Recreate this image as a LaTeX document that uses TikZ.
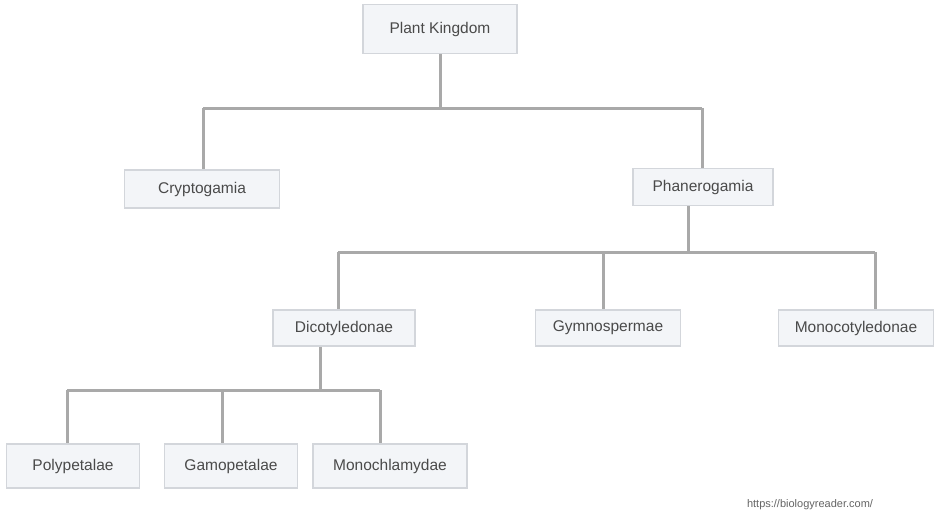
\documentclass[tikz,border=0pt]{standalone}
\usepackage{fontspec}
\setmainfont{Liberation Sans}
\usetikzlibrary{calc}
\definecolor{boxfill}{HTML}{F3F5F8}
\definecolor{boxline}{HTML}{D3D6DB}
\definecolor{conncol}{HTML}{A9A9A9}
\definecolor{txtcol}{HTML}{4A4A4A}
\begin{document}
\begin{tikzpicture}[x=1pt,y=-1pt,
  tbox/.style={draw=boxline, line width=1.5pt, fill=boxfill, text=txtcol,
    font=\fontsize{15.5}{17}\selectfont, inner sep=0pt, anchor=center},
  conn/.style={draw=conncol, line width=3pt},
  url/.style={text=txtcol!85, font=\fontsize{11}{12}\selectfont}]
\useasboundingbox (0,0) rectangle (934,517);
\fill[white] (0,0) rectangle (934,517);
% nodes
\node[tbox, minimum width=154pt, minimum height=49pt] (pk) at (440,29) {Plant Kingdom};
\node[tbox, minimum width=155pt, minimum height=38pt] (cr) at (202,189) {Cryptogamia};
\node[tbox, minimum width=140pt, minimum height=37pt] (ph) at (703,187) {Phanerogamia};
\node[tbox, minimum width=142pt, minimum height=36pt] (di) at (344,328) {Dicotyledonae};
\node[tbox, minimum width=145pt, minimum height=36pt] (gy) at (608,328) {Gymnospermae};
\node[tbox, minimum width=155pt, minimum height=36pt] (mo) at (856,328) {Monocotyledonae};
\node[tbox, minimum width=133pt, minimum height=44pt] (po) at (73,466) {Polypetalae};
\node[tbox, minimum width=133pt, minimum height=44pt] (ga) at (231,466) {Gamopetalae};
\node[tbox, minimum width=154pt, minimum height=44pt] (mc) at (390,466) {Monochlamydae};
\node[url] (u) at (810,505) {https://biologyreader.com/};
% bus coordinates
\coordinate (a1) at (203,108);
\coordinate (a2) at (702,108);
\coordinate (b0) at (688,252);
\coordinate (b1) at (338,252);
\coordinate (b2) at (603,252);
\coordinate (b3) at (875,252);
\coordinate (c0) at (320,390);
\coordinate (c1) at (67,390);
\coordinate (c2) at (222,390);
\coordinate (c3) at (380,390);
% connectors level 1
\draw[conn] (pk.south) -- (pk.south |- a1);
\draw[conn] (a1) -- (a2);
\draw[conn] (a1) -- (a1 |- cr.north);
\draw[conn] (a2) -- (a2 |- ph.north);
% level 2
\draw[conn] (ph.south -| b0) -- (b0);
\draw[conn] (b1) -- (b3);
\draw[conn] (b1) -- (b1 |- di.north);
\draw[conn] (b2) -- (b2 |- gy.north);
\draw[conn] (b3) -- (b3 |- mo.north);
% level 3
\draw[conn] (di.south -| c0) -- (c0);
\draw[conn] (c1) -- (c3);
\draw[conn] (c1) -- (c1 |- po.north);
\draw[conn] (c2) -- (c2 |- ga.north);
\draw[conn] (c3) -- (c3 |- mc.north);
\end{tikzpicture}
\end{document}
